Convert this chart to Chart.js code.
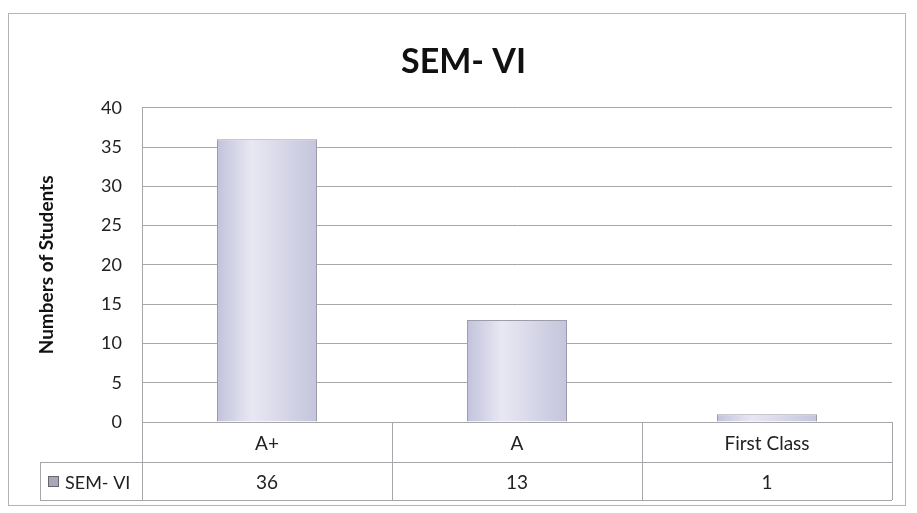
<!DOCTYPE html>
<html>
<head>
<meta charset="utf-8">
<script src="https://cdn.jsdelivr.net/npm/chart.js@4"></script>
<style>
  html, body { margin: 0; padding: 0; background: #fff; }
  #wrap { width: 917px; height: 513px; }
</style>
</head>
<body>
<div id="wrap"><canvas id="semChart" width="917" height="513"></canvas></div>
<script>
const categories = ['A+', 'A', 'First Class'];
const semValues = [36, 13, 1];
const seriesName = 'SEM- VI';
const yTicks = [0, 5, 10, 15, 20, 25, 30, 35, 40];

const FONT = 'Lato, "Open Sans", sans-serif';
const LINE = '#a6a6ab';

// outer frame + data table under the plot
const tablePlugin = {
  id: 'dataTable',
  afterDraw(chart) {
    const { ctx, chartArea: a, scales: { x } } = chart;
    const row1 = a.bottom, row2 = a.bottom + 40, row3 = a.bottom + 78;
    const colW = a.width / categories.length;
    const legLeft = 40;
    ctx.save();
    ctx.strokeStyle = LINE;
    ctx.lineWidth = 1;
    ctx.beginPath();
    ctx.moveTo(a.left, row1 + 0.5); ctx.lineTo(a.right, row1 + 0.5);
    ctx.moveTo(legLeft, row2 + 0.5); ctx.lineTo(a.right, row2 + 0.5);
    ctx.moveTo(legLeft, row3 + 0.5); ctx.lineTo(a.right, row3 + 0.5);
    ctx.moveTo(legLeft + 0.5, row2); ctx.lineTo(legLeft + 0.5, row3);
    ctx.moveTo(a.left + 0.5, row1); ctx.lineTo(a.left + 0.5, row3);
    for (let i = 1; i <= categories.length; i++) {
      const cx = Math.round(a.left + colW * i) + 0.5;
      ctx.moveTo(cx, row1); ctx.lineTo(cx, row3);
    }
    ctx.stroke();

    ctx.fillStyle = '#222';
    ctx.font = '19px ' + FONT;
    ctx.textAlign = 'center';
    ctx.textBaseline = 'middle';
    categories.forEach((c, i) => {
      const px = x.getPixelForValue(i);
      ctx.fillText(c, px, (row1 + row2) / 2 + 2);
      ctx.fillText(String(semValues[i]), px, (row2 + row3) / 2 + 2);
    });
    // legend key
    const ly = (row2 + row3) / 2;
    ctx.fillStyle = '#a9a9b6';
    ctx.strokeStyle = '#66666e';
    ctx.fillRect(48, ly - 5, 11, 11);
    ctx.strokeRect(48.5, ly - 4.5, 10, 10);
    ctx.fillStyle = '#222';
    ctx.textAlign = 'left';
    ctx.font = '18px ' + FONT;
    ctx.fillText(seriesName, 65, ly + 2);

    // outer frame
    ctx.strokeStyle = '#b4b4b8';
    ctx.strokeRect(8.5, 13.5, 897, 492);
    ctx.restore();
  }
};

function barFill(context) {
  const chart = context.chart;
  const a = chart.chartArea;
  const x = chart.scales.x;
  if (!a || !x) return '#cdcde2';
  const c = x.getPixelForValue(context.dataIndex);
  const w = (a.width / categories.length) * 0.4;
  const g = chart.ctx.createLinearGradient(c - w / 2, 0, c + w / 2, 0);
  g.addColorStop(0, '#c2c2dc');
  g.addColorStop(0.35, '#e8e8f3');
  g.addColorStop(1, '#c4c4dc');
  return g;
}

new Chart(document.getElementById('semChart').getContext('2d'), {
  type: 'bar',
  data: {
    labels: categories,
    datasets: [{
      label: seriesName,
      data: semValues,
      backgroundColor: barFill,
      borderColor: '#9c9caa',
      borderWidth: 1,
      categoryPercentage: 1,
      barPercentage: 0.4
    }]
  },
  options: {
    responsive: false,
    animation: false,
    layout: { padding: { left: 35, right: 25, top: 0, bottom: 91 } },
    plugins: {
      legend: { display: false },
      tooltip: { enabled: false },
      title: {
        display: true,
        text: 'SEM- VI',
        color: '#111',
        font: { family: FONT, size: 34, weight: 'bold' },
        padding: { top: 42, bottom: 25 }
      }
    },
    scales: {
      x: {
        display: false,
        offset: true
      },
      y: {
        min: 0,
        max: 40,
        afterBuildTicks(s) { s.ticks = yTicks.map(v => ({ value: v })); },
        afterFit(s) { s.width = 107; },
        border: { display: true, color: LINE },
        grid: { color: LINE, drawTicks: false },
        ticks: { color: '#222', padding: 20, font: { family: FONT, size: 18 } },
        title: {
          display: true,
          text: 'Numbers of Students',
          color: '#111',
          padding: 0,
          font: { family: FONT, size: 19, weight: 'bold' }
        }
      }
    }
  },
  plugins: [tablePlugin]
});
</script>
</body>
</html>
